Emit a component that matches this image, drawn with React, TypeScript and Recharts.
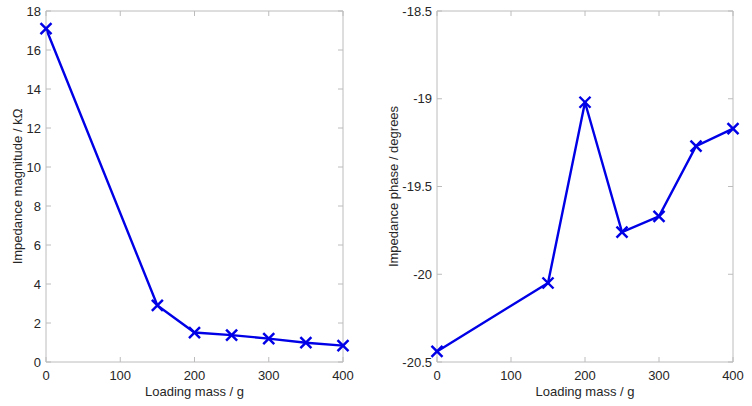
import React from "react";
import { LineChart, Line, XAxis, YAxis } from "recharts";

// loading mass in grams
const mass = [0, 150, 200, 250, 300, 350, 400];
// impedance magnitude, kOhm
const magnitude = [17.1, 2.9, 1.51, 1.38, 1.2, 0.99, 0.84];
// impedance phase, degrees
const phase = [-20.44, -20.05, -19.02, -19.76, -19.67, -19.27, -19.17];

const massTicks = [0, 100, 200, 300, 400];
const magTicks = [0, 2, 4, 6, 8, 10, 12, 14, 16, 18];
const phaseTicks = [-20.5, -20, -19.5, -19, -18.5];

const AXIS = "#bcbcbc";
const TEXT = "#262626";
const BLUE = "#0000e6";
const FONT = "'Liberation Sans', Arial, sans-serif";

const magData = mass.map((m, i) => ({ m, v: magnitude[i] }));
const phaseData = mass.map((m, i) => ({ m, v: phase[i] }));

const BottomTick = (p: any) => (
  <g>
    <line x1={p.x} x2={p.x} y1={p.y} y2={p.y - 5} stroke={AXIS} />
    <text x={p.x} y={p.y + 18} textAnchor="middle" fill={TEXT} fontSize={13} fontFamily={FONT}>
      {p.payload.value}
    </text>
  </g>
);

const TopTick = (p: any) => (
  <line x1={p.x} x2={p.x} y1={p.y} y2={p.y + 5} stroke={AXIS} />
);

const LeftTick = (p: any) => (
  <g>
    <line x1={p.x} x2={p.x + 5} y1={p.y} y2={p.y} stroke={AXIS} />
    <text x={p.x - 5} y={p.y} dy="0.36em" textAnchor="end" fill={TEXT} fontSize={13} fontFamily={FONT}>
      {p.payload.value}
    </text>
  </g>
);

const RightTick = (p: any) => (
  <line x1={p.x} x2={p.x - 5} y1={p.y} y2={p.y} stroke={AXIS} />
);

const Cross = (p: any) => {
  const { cx, cy } = p;
  if (cx == null || cy == null) return null;
  const s = 5.5;
  return (
    <g stroke={BLUE} strokeWidth={2.4}>
      <line x1={cx - s} y1={cy - s} x2={cx + s} y2={cy + s} />
      <line x1={cx - s} y1={cy + s} x2={cx + s} y2={cy - s} />
    </g>
  );
};

type PanelProps = {
  data: { m: number; v: number }[];
  yTicks: number[];
  yDomain: [number, number];
  yLabel: string;
  yWidth: number;
  right: number;
};

function Panel({ data, yTicks, yDomain, yLabel, yWidth, right }: PanelProps) {
  return (
    <LineChart width={376} height={406} data={data} margin={{ top: 10, right, bottom: 0, left: 0 }}>
      <XAxis
        xAxisId="b"
        dataKey="m"
        type="number"
        domain={[0, 400]}
        ticks={massTicks}
        height={44}
        tickSize={0}
        tickMargin={0}
        tickLine={false}
        axisLine={{ stroke: AXIS }}
        tick={<BottomTick />}
        label={{ value: "Loading mass / g", position: "insideBottom", offset: 10, fill: TEXT, fontSize: 13, fontFamily: FONT }}
      />
      <XAxis
        xAxisId="t"
        orientation="top"
        dataKey="m"
        type="number"
        domain={[0, 400]}
        ticks={massTicks}
        height={1}
        tickSize={0}
        tickMargin={0}
        tickLine={false}
        axisLine={{ stroke: AXIS }}
        tick={<TopTick />}
      />
      <YAxis
        yAxisId="l"
        type="number"
        domain={yDomain}
        ticks={yTicks}
        width={yWidth}
        tickSize={0}
        tickMargin={0}
        tickLine={false}
        axisLine={{ stroke: AXIS }}
        tick={<LeftTick />}
        label={{
          value: yLabel,
          angle: -90,
          position: "insideLeft",
          offset: 17,
          fill: TEXT,
          fontSize: 13,
          fontFamily: FONT,
          style: { textAnchor: "middle" },
        }}
      />
      <YAxis
        yAxisId="r"
        orientation="right"
        type="number"
        domain={yDomain}
        ticks={yTicks}
        width={1}
        tickSize={0}
        tickMargin={0}
        tickLine={false}
        axisLine={{ stroke: AXIS }}
        tick={<RightTick />}
      />
      <Line
        xAxisId="t"
        yAxisId="r"
        dataKey="v"
        stroke="none"
        dot={false}
        activeDot={false}
        isAnimationActive={false}
      />
      <Line
        xAxisId="b"
        yAxisId="l"
        dataKey="v"
        stroke={BLUE}
        strokeWidth={2.4}
        dot={<Cross />}
        activeDot={false}
        isAnimationActive={false}
      />
    </LineChart>
  );
}

export default function App() {
  return (
    <div style={{ position: "absolute", left: 0, top: 0, width: 752, height: 406, background: "#fff", display: "flex" }}>
      <Panel
        data={magData}
        yTicks={magTicks}
        yDomain={[0, 18]}
        yLabel="Impedance magnitude / kΩ"
        yWidth={46}
        right={32}
      />
      <Panel
        data={phaseData}
        yTicks={phaseTicks}
        yDomain={[-20.5, -18.5]}
        yLabel="Impedance phase / degrees"
        yWidth={61}
        right={18}
      />
    </div>
  );
}
